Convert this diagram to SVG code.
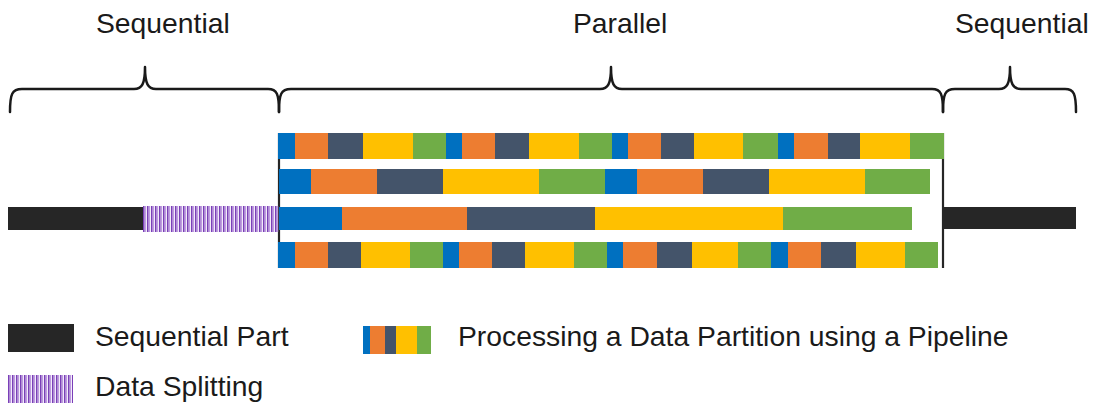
<svg xmlns="http://www.w3.org/2000/svg" width="1096" height="418" viewBox="0 0 1096 418">
<style>
.t{font-family:"Liberation Sans",Arial,sans-serif;font-size:28.3px;fill:#1a1a1a}
.b{fill:#0070C0}.o{fill:#ED7D31}.d{fill:#44546A}.y{fill:#FFC000}.g{fill:#70AD47}
.k{fill:#262626}
.brace{fill:none;stroke:#1a1a1a;stroke-width:2.5;stroke-linecap:round;stroke-linejoin:round}
.sep{stroke:#262626;stroke-width:2.2}
</style>
<defs>
<pattern id="stripes" x="143" y="0" width="4" height="40" patternUnits="userSpaceOnUse">
<rect x="0" y="0" width="1.6" height="40" fill="#7A3FB8"/>
<rect x="2" y="0" width="1.2" height="40" fill="#BE9BE0"/>
</pattern>
<pattern id="stripesL" x="8" y="0" width="4" height="40" patternUnits="userSpaceOnUse">
<rect x="0" y="0" width="1.6" height="40" fill="#7A3FB8"/>
<rect x="2" y="0" width="1.2" height="40" fill="#BE9BE0"/>
</pattern>
</defs>

<g id="labels">
<text class="t" x="96" y="33">Sequential</text>
<text class="t" x="573" y="33">Parallel</text>
<text class="t" x="955" y="33">Sequential</text>
</g>

<g id="braces">
<path class="brace" d="M10,112 C10,94 12,89 22,89 L134,89 C142,89 145,84 145,67 C145,84 148,89 156,89 L268,89 C277,89 279,94 279,112"/>
<path class="brace" d="M279,112 C279,94 281,89 291,89 L600,89 C608,89 611,84 611,67 C611,84 614,89 622,89 L932,89 C941,89 943,94 943,112"/>
<path class="brace" d="M943,112 C943,94 945,89 955,89 L999,89 C1007,89 1010,84 1010,67 C1010,84 1013,89 1021,89 L1065,89 C1074,89 1076,94 1076,112"/>
</g>

<g id="connectors">
<line class="sep" x1="279" y1="133" x2="279" y2="268"/>
<line class="sep" x1="943" y1="133" x2="943" y2="268"/>
</g>

<g id="seq-left">
<rect class="k" x="8" y="207" width="135" height="23"/>
</g>
<g id="data-splitting">
<rect x="143" y="206" width="136" height="26" fill="url(#stripes)"/>
</g>

<g id="pipeline-row1">
<rect class="b" x="278" y="133" width="17" height="26"/>
<rect class="o" x="295" y="133" width="33" height="26"/>
<rect class="d" x="328" y="133" width="35" height="26"/>
<rect class="y" x="363" y="133" width="50" height="26"/>
<rect class="g" x="413" y="133" width="33" height="26"/>
<rect class="b" x="446" y="133" width="16" height="26"/>
<rect class="o" x="462" y="133" width="33" height="26"/>
<rect class="d" x="495" y="133" width="34" height="26"/>
<rect class="y" x="529" y="133" width="50" height="26"/>
<rect class="g" x="579" y="133" width="33" height="26"/>
<rect class="b" x="612" y="133" width="16" height="26"/>
<rect class="o" x="628" y="133" width="33" height="26"/>
<rect class="d" x="661" y="133" width="33" height="26"/>
<rect class="y" x="694" y="133" width="49" height="26"/>
<rect class="g" x="743" y="133" width="35" height="26"/>
<rect class="b" x="778" y="133" width="16" height="26"/>
<rect class="o" x="794" y="133" width="34" height="26"/>
<rect class="d" x="828" y="133" width="32" height="26"/>
<rect class="y" x="860" y="133" width="50" height="26"/>
<rect class="g" x="910" y="133" width="34" height="26"/>
</g>

<g id="pipeline-row2">
<rect class="b" x="279" y="169" width="32" height="25"/>
<rect class="o" x="311" y="169" width="66" height="25"/>
<rect class="d" x="377" y="169" width="66" height="25"/>
<rect class="y" x="443" y="169" width="96" height="25"/>
<rect class="g" x="539" y="169" width="66" height="25"/>
<rect class="b" x="605" y="169" width="32" height="25"/>
<rect class="o" x="637" y="169" width="66" height="25"/>
<rect class="d" x="703" y="169" width="66" height="25"/>
<rect class="y" x="769" y="169" width="96" height="25"/>
<rect class="g" x="865" y="169" width="65" height="25"/>
</g>

<g id="pipeline-row3">
<rect class="b" x="279" y="207" width="63" height="23"/>
<rect class="o" x="342" y="207" width="125" height="23"/>
<rect class="d" x="467" y="207" width="128" height="23"/>
<rect class="y" x="595" y="207" width="188" height="23"/>
<rect class="g" x="783" y="207" width="129" height="23"/>
</g>

<g id="pipeline-row4">
<rect class="b" x="278" y="242" width="17" height="26"/>
<rect class="o" x="295" y="242" width="33" height="26"/>
<rect class="d" x="328" y="242" width="33" height="26"/>
<rect class="y" x="361" y="242" width="49" height="26"/>
<rect class="g" x="410" y="242" width="33" height="26"/>
<rect class="b" x="443" y="242" width="16" height="26"/>
<rect class="o" x="459" y="242" width="33" height="26"/>
<rect class="d" x="492" y="242" width="33" height="26"/>
<rect class="y" x="525" y="242" width="49" height="26"/>
<rect class="g" x="574" y="242" width="33" height="26"/>
<rect class="b" x="607" y="242" width="16" height="26"/>
<rect class="o" x="623" y="242" width="34" height="26"/>
<rect class="d" x="657" y="242" width="35" height="26"/>
<rect class="y" x="692" y="242" width="46" height="26"/>
<rect class="g" x="738" y="242" width="33" height="26"/>
<rect class="b" x="771" y="242" width="17" height="26"/>
<rect class="o" x="788" y="242" width="33" height="26"/>
<rect class="d" x="821" y="242" width="35" height="26"/>
<rect class="y" x="856" y="242" width="49" height="26"/>
<rect class="g" x="905" y="242" width="33" height="26"/>
</g>

<g id="seq-right">
<rect class="k" x="943" y="207" width="133" height="22"/>
</g>

<g id="legend">
<g id="legend-sequential">
<rect class="k" x="8" y="324" width="66" height="28"/>
<text class="t" x="95" y="346">Sequential Part</text>
</g>
<g id="legend-splitting">
<rect x="8" y="375" width="65" height="28" fill="url(#stripesL)"/>
<text class="t" x="95" y="396">Data Splitting</text>
</g>
<g id="legend-pipeline">
<rect class="b" x="363" y="326" width="7" height="28"/>
<rect class="o" x="370" y="326" width="15" height="28"/>
<rect class="d" x="385" y="326" width="11" height="28"/>
<rect class="y" x="396" y="326" width="21" height="28"/>
<rect class="g" x="417" y="326" width="14" height="28"/>
<text class="t" x="458" y="346">Processing a Data Partition using a Pipeline</text>
</g>
</g>
</svg>
